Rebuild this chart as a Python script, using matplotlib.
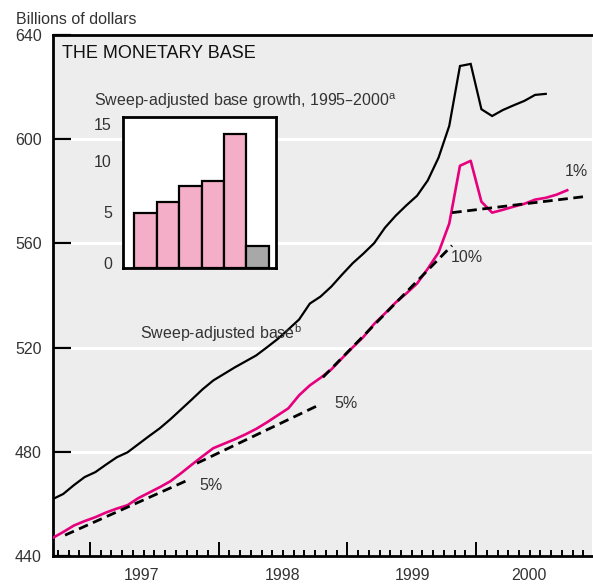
import matplotlib.pyplot as plt
import numpy as np

plt.rcParams['font.family'] = ['Liberation Sans', 'DejaVu Sans']

# monatliche Werte, Monatsmitte, ab September 1996
startYear = 1996
startMonth = 9
monetaryBase = [461.8, 463.8, 467.2, 470.3, 472.2, 475.1, 477.9, 479.8, 482.9, 486.0,
                489.0, 492.5, 496.3, 500.1, 504.0, 507.4, 509.9, 512.4, 514.7, 517.0,
                520.1, 523.3, 527.0, 530.8, 536.9, 539.6, 543.4, 548.0, 552.4, 556.1,
                560.1, 566.0, 570.6, 574.6, 578.3, 584.2, 592.9, 605.1, 628.1, 628.9,
                611.5, 608.9, 611.2, 613.0, 614.7, 617.0, 617.4]
sweepAdjusted = [446.9, 449.2, 451.7, 453.4, 454.9, 456.7, 458.2, 459.5, 462.2, 464.3,
                 466.4, 468.7, 471.8, 475.1, 478.3, 481.4, 483.1, 484.8, 486.7, 488.8,
                 491.3, 494.0, 496.7, 501.7, 505.5, 508.4, 511.6, 515.9, 520.1, 524.1,
                 529.1, 533.1, 537.3, 540.8, 544.6, 550.3, 556.5, 567.6, 589.8, 591.7,
                 576.0, 571.8, 572.9, 574.1, 575.2, 576.8, 577.5, 578.7, 580.4]

# Trendlinien: Anfang/Ende (Jahr) und Werte
trendStart = [1996.806, 1997.831, 1998.810, 1999.813]
trendEnd = [1997.777, 1998.772, 1999.813, 2000.831]
trendStartVal = [448.0, 475.6, 508.6, 571.8]
trendEndVal = [469.5, 497.8, 559.2, 577.9]
trendLabels = ["5%", "5%", "10%", "1%"]
trendLabelPos = [(1997.94, 467.0), (1998.99, 498.5), (1999.93, 554.5), (2000.78, 587.5)]

yearLabels = ["1997", "1998", "1999", "2000"]
yearLabelPos = [1997.40, 1998.50, 1999.51, 2000.41]

# Inset
growthYears = ["1995", "1996", "1997", "1998", "1999", "2000"]
growthValues = [4.9, 6.0, 7.5, 8.0, 12.6, 1.7]
growthColors = ["#F5AEC8", "#F5AEC8", "#F5AEC8", "#F5AEC8", "#F5AEC8", "#A8A8A8"]

pink = "#E6007E"
bg = "#EDEDED"
textColor = "#333333"
fs = 11.5


def monthX(n, year, month):
    k = np.arange(n)
    return year + (month - 1 + 0.5 + k) / 12


fig = plt.figure(figsize=(5.93, 5.84), dpi=100)
ax = fig.add_axes([53 / 593, 1 - 556 / 584, 539 / 593, 521 / 584])
ax.set_facecolor(bg)

ax.set_xlim(1996.7125, 2000.901)
ax.set_ylim(440, 640)

# weisse Gitterlinien
for v in [480, 520, 560, 600]:
    ax.axhline(v, color="white", lw=2.2, zorder=1)

ax.plot(monthX(len(monetaryBase), startYear, startMonth), monetaryBase,
        color="black", lw=1.6, zorder=3, solid_joinstyle="miter")
ax.plot(monthX(len(sweepAdjusted), startYear, startMonth), sweepAdjusted,
        color=pink, lw=1.9, zorder=3)

for i in range(len(trendStart)):
    ax.plot([trendStart[i], trendEnd[i]], [trendStartVal[i], trendEndVal[i]],
            color="black", lw=2.0, ls=(0, (3.5, 2)), zorder=4)
    ax.text(trendLabelPos[i][0], trendLabelPos[i][1], trendLabels[i],
            fontsize=fs, color=textColor, ha="center", va="center")

# Achsen
ax.spines['right'].set_visible(False)
for s in ['left', 'bottom', 'top']:
    ax.spines[s].set_linewidth(2.0)

ax.set_yticks([440, 480, 520, 560, 600, 640])
ax.tick_params(axis='y', direction='in', length=13, width=1.6, pad=8,
               labelsize=fs, labelcolor=textColor)

ax.set_xticks(np.arange(1997, 2001))
ax.set_xticks(np.arange(1996.75, 2000.9, 1 / 12), minor=True)
ax.tick_params(axis='x', which='major', direction='in', length=10, width=1.4, labelbottom=False)
ax.tick_params(axis='x', which='minor', direction='in', length=4.3, width=1.4)
for i in range(len(yearLabels)):
    ax.text(yearLabelPos[i], -0.038, yearLabels[i], transform=ax.get_xaxis_transform(),
            fontsize=fs, color=textColor, ha="center", va="center")

ax.text(0.017, 0.965, "THE MONETARY BASE", transform=ax.transAxes, fontsize=13,
        color="#111111", va="center")
fig.text(16 / 593, 1 - 19 / 584, "Billions of dollars", fontsize=fs, color=textColor, va="center")
ax.text(1997.39, 525.5, "Sweep-adjusted base$^{\\mathregular{b}}$", fontsize=fs,
        color=textColor, va="center")

# Inset Balkendiagramm
ins = fig.add_axes([123 / 593, 1 - 268 / 584, 153 / 593, 151 / 584])
ins.set_facecolor("white")
ymin = -0.5
ins.bar(np.arange(len(growthValues)), np.array(growthValues) - ymin, bottom=ymin, width=1.0,
        color=growthColors, edgecolor="black", linewidth=1.6, zorder=3)
ins.set_xlim(-1.0, 5.82)
ins.set_ylim(ymin, 14.3)
ins.set_xticks([])
for s in ins.spines.values():
    s.set_linewidth(2.0)
ins.set_yticks([5, 10], minor=True)
ins.tick_params(axis='y', which='minor', direction='in', length=8, width=1.6)
ins.set_yticks([0, 5, 10, 13.6])
ins.set_yticklabels(["0", "5", "10", "15"])
ins.tick_params(axis='y', which='major', length=0, pad=8, labelsize=fs, labelcolor=textColor)
fig.text(94 / 593, 1 - 101 / 584, "Sweep-adjusted base growth, 1995\u20132000$^{\\mathregular{a}}$",
         fontsize=fs, color=textColor, va="center")

fig.savefig("out.png", dpi=100)
